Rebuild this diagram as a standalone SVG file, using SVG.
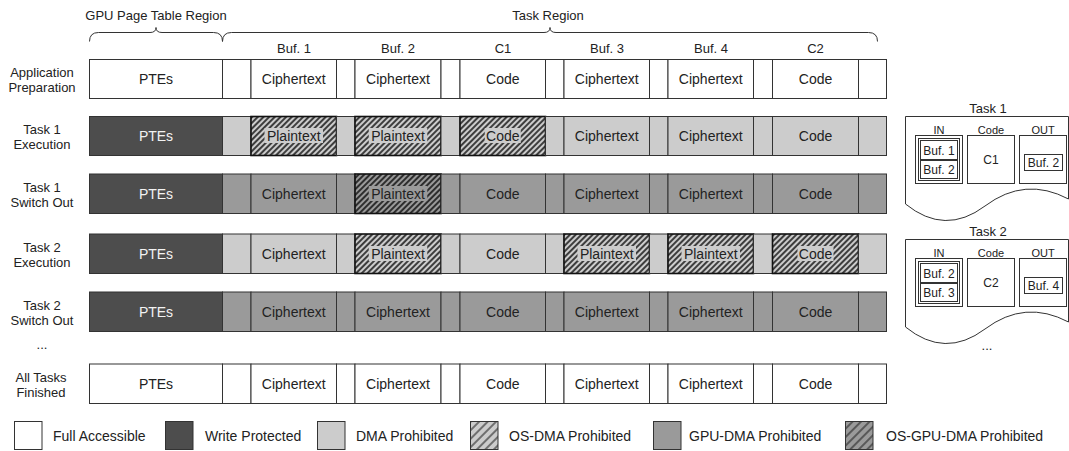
<svg xmlns="http://www.w3.org/2000/svg" width="1069" height="451" viewBox="0 0 1069 451">
<defs>
<style>
text{font-family:"Liberation Sans",Arial,Helvetica,sans-serif;fill:#222;text-anchor:middle}
.lbl{font-size:13px}
.hdr{font-size:13px}
.nt{font-size:14px}
.wt{fill:#f2f2f2}
.lg{font-size:14px;text-anchor:start}
.sm{font-size:11px}
.bt{font-size:12px}
.c{stroke:#333;stroke-width:1}
.h{stroke:#111;stroke-width:1.6}
.W{fill:#fff}.D{fill:#4d4d4d}.L{fill:#cccccc}.M{fill:#9a9a9a}
.br{fill:none;stroke:#333;stroke-width:1}
.pn{fill:#fff;stroke:#333;stroke-width:1}
</style>
<pattern id="hatch" width="4" height="4" patternUnits="userSpaceOnUse" patternTransform="rotate(45)">
<line x1="1" y1="0" x2="1" y2="4" stroke="#000" stroke-width="1.4"/>
</pattern>
<pattern id="hatchLg" width="6" height="6" patternUnits="userSpaceOnUse" patternTransform="rotate(45)">
<line x1="1" y1="0" x2="1" y2="6" stroke="#222" stroke-width="1.1"/>
</pattern>
</defs>

<g id="braces">
<text class="hdr" x="156" y="19.5">GPU Page Table Region</text>
<text class="hdr" x="548" y="19.5">Task Region</text>
<path class="br" d="M89.5,41.5 Q89.5,32.5 98.5,32.5 L150,32.5 Q156,32.5 156,27.5 Q156,32.5 162,32.5 L213.5,32.5 Q222.5,32.5 222.5,41.5"/>
<path class="br" d="M222.5,41.5 Q222.5,32.5 231.5,32.5 L544,32.5 Q550,32.5 550,27.5 Q550,32.5 556,32.5 L868.5,32.5 Q877.5,32.5 877.5,41.5"/>
<text class="hdr" x="294" y="53">Buf. 1</text>
<text class="hdr" x="398" y="53">Buf. 2</text>
<text class="hdr" x="503" y="53">C1</text>
<text class="hdr" x="607" y="53">Buf. 3</text>
<text class="hdr" x="711" y="53">Buf. 4</text>
<text class="hdr" x="815.5" y="53">C2</text>
</g>

<!-- Row 1 -->
<g id="row-app-prep">
<text class="lbl" x="42" y="77">Application</text>
<text class="lbl" x="42" y="92">Preparation</text>
<rect class="c W" x="89.5" y="59.5" width="133" height="39"/>
<rect class="c W" x="222.5" y="59.5" width="28.5" height="39"/>
<rect class="c W" x="251" y="59.5" width="85.5" height="39"/>
<rect class="c W" x="336.5" y="59.5" width="18.5" height="39"/>
<rect class="c W" x="355" y="59.5" width="86" height="39"/>
<rect class="c W" x="441" y="59.5" width="19" height="39"/>
<rect class="c W" x="460" y="59.5" width="85.5" height="39"/>
<rect class="c W" x="545.5" y="59.5" width="18.5" height="39"/>
<rect class="c W" x="564" y="59.5" width="85.5" height="39"/>
<rect class="c W" x="649.5" y="59.5" width="18.5" height="39"/>
<rect class="c W" x="668" y="59.5" width="85.5" height="39"/>
<rect class="c W" x="753.5" y="59.5" width="19" height="39"/>
<rect class="c W" x="772.5" y="59.5" width="86" height="39"/>
<rect class="c W" x="858.5" y="59.5" width="28" height="39"/>
<text class="nt" x="156" y="84">PTEs</text>
<text class="nt" x="293.75" y="84">Ciphertext</text>
<text class="nt" x="398" y="84">Ciphertext</text>
<text class="nt" x="502.75" y="84">Code</text>
<text class="nt" x="606.75" y="84">Ciphertext</text>
<text class="nt" x="710.75" y="84">Ciphertext</text>
<text class="nt" x="815.5" y="84">Code</text>
</g>

<!-- Row 2 -->
<g id="row-task1-exec">
<text class="lbl" x="42" y="134">Task 1</text>
<text class="lbl" x="42" y="149">Execution</text>
<rect class="c D" x="89.5" y="116.5" width="133" height="39"/>
<rect class="c L" x="222.5" y="116.5" width="28.5" height="39"/>
<rect class="L" x="251" y="116.5" width="85.5" height="39"/>
<rect class="h" fill="url(#hatch)" x="251" y="116.5" width="85.5" height="39"/>
<rect class="c L" x="336.5" y="116.5" width="18.5" height="39"/>
<rect class="L" x="355" y="116.5" width="86" height="39"/>
<rect class="h" fill="url(#hatch)" x="355" y="116.5" width="86" height="39"/>
<rect class="c L" x="441" y="116.5" width="19" height="39"/>
<rect class="L" x="460" y="116.5" width="85.5" height="39"/>
<rect class="h" fill="url(#hatch)" x="460" y="116.5" width="85.5" height="39"/>
<rect class="c L" x="545.5" y="116.5" width="18.5" height="39"/>
<rect class="c L" x="564" y="116.5" width="85.5" height="39"/>
<rect class="c L" x="649.5" y="116.5" width="18.5" height="39"/>
<rect class="c L" x="668" y="116.5" width="85.5" height="39"/>
<rect class="c L" x="753.5" y="116.5" width="19" height="39"/>
<rect class="c L" x="772.5" y="116.5" width="86" height="39"/>
<rect class="c L" x="858.5" y="116.5" width="28" height="39"/>
<rect class="L" x="264.5" y="128" width="58.5" height="15"/>
<rect class="L" x="368.75" y="128" width="58.5" height="15"/>
<rect class="L" x="484.75" y="128" width="36" height="15"/>
<text class="nt wt" x="156" y="141">PTEs</text>
<text class="nt" x="293.75" y="141">Plaintext</text>
<text class="nt" x="398" y="141">Plaintext</text>
<text class="nt" x="502.75" y="141">Code</text>
<text class="nt" x="606.75" y="141">Ciphertext</text>
<text class="nt" x="710.75" y="141">Ciphertext</text>
<text class="nt" x="815.5" y="141">Code</text>
</g>

<!-- Row 3 -->
<g id="row-task1-switch">
<text class="lbl" x="42" y="192">Task 1</text>
<text class="lbl" x="42" y="207">Switch Out</text>
<rect class="c D" x="89.5" y="174" width="133" height="39.5"/>
<rect class="c M" x="222.5" y="174" width="28.5" height="39.5"/>
<rect class="c M" x="251" y="174" width="85.5" height="39.5"/>
<rect class="c M" x="336.5" y="174" width="18.5" height="39.5"/>
<rect class="M" x="355" y="174" width="86" height="39.5"/>
<rect class="h" fill="url(#hatch)" x="355" y="174" width="86" height="39.5"/>
<rect class="c M" x="441" y="174" width="19" height="39.5"/>
<rect class="c M" x="460" y="174" width="85.5" height="39.5"/>
<rect class="c M" x="545.5" y="174" width="18.5" height="39.5"/>
<rect class="c M" x="564" y="174" width="85.5" height="39.5"/>
<rect class="c M" x="649.5" y="174" width="18.5" height="39.5"/>
<rect class="c M" x="668" y="174" width="85.5" height="39.5"/>
<rect class="c M" x="753.5" y="174" width="19" height="39.5"/>
<rect class="c M" x="772.5" y="174" width="86" height="39.5"/>
<rect class="c M" x="858.5" y="174" width="28" height="39.5"/>
<rect class="M" x="368.75" y="186" width="58.5" height="15"/>
<text class="nt wt" x="156" y="199">PTEs</text>
<text class="nt" x="293.75" y="199">Ciphertext</text>
<text class="nt" x="398" y="199">Plaintext</text>
<text class="nt" x="502.75" y="199">Code</text>
<text class="nt" x="606.75" y="199">Ciphertext</text>
<text class="nt" x="710.75" y="199">Ciphertext</text>
<text class="nt" x="815.5" y="199">Code</text>
</g>

<!-- Row 4 -->
<g id="row-task2-exec">
<text class="lbl" x="42" y="252">Task 2</text>
<text class="lbl" x="42" y="267">Execution</text>
<rect class="c D" x="89.5" y="234" width="133" height="39.5"/>
<rect class="c L" x="222.5" y="234" width="28.5" height="39.5"/>
<rect class="c L" x="251" y="234" width="85.5" height="39.5"/>
<rect class="c L" x="336.5" y="234" width="18.5" height="39.5"/>
<rect class="L" x="355" y="234" width="86" height="39.5"/>
<rect class="h" fill="url(#hatch)" x="355" y="234" width="86" height="39.5"/>
<rect class="c L" x="441" y="234" width="19" height="39.5"/>
<rect class="c L" x="460" y="234" width="85.5" height="39.5"/>
<rect class="c L" x="545.5" y="234" width="18.5" height="39.5"/>
<rect class="L" x="564" y="234" width="85.5" height="39.5"/>
<rect class="h" fill="url(#hatch)" x="564" y="234" width="85.5" height="39.5"/>
<rect class="c L" x="649.5" y="234" width="18.5" height="39.5"/>
<rect class="L" x="668" y="234" width="85.5" height="39.5"/>
<rect class="h" fill="url(#hatch)" x="668" y="234" width="85.5" height="39.5"/>
<rect class="c L" x="753.5" y="234" width="19" height="39.5"/>
<rect class="L" x="772.5" y="234" width="86" height="39.5"/>
<rect class="h" fill="url(#hatch)" x="772.5" y="234" width="86" height="39.5"/>
<rect class="c L" x="858.5" y="234" width="28" height="39.5"/>
<rect class="L" x="368.75" y="246" width="58.5" height="15"/>
<rect class="L" x="577.5" y="246" width="58.5" height="15"/>
<rect class="L" x="681.5" y="246" width="58.5" height="15"/>
<rect class="L" x="797.5" y="246" width="36" height="15"/>
<text class="nt wt" x="156" y="259">PTEs</text>
<text class="nt" x="293.75" y="259">Ciphertext</text>
<text class="nt" x="398" y="259">Plaintext</text>
<text class="nt" x="502.75" y="259">Code</text>
<text class="nt" x="606.75" y="259">Plaintext</text>
<text class="nt" x="710.75" y="259">Plaintext</text>
<text class="nt" x="815.5" y="259">Code</text>
</g>

<!-- Row 5 -->
<g id="row-task2-switch">
<text class="lbl" x="42" y="310">Task 2</text>
<text class="lbl" x="42" y="325">Switch Out</text>
<rect class="c D" x="89.5" y="292" width="133" height="39.5"/>
<rect class="c M" x="222.5" y="292" width="28.5" height="39.5"/>
<rect class="c M" x="251" y="292" width="85.5" height="39.5"/>
<rect class="c M" x="336.5" y="292" width="18.5" height="39.5"/>
<rect class="c M" x="355" y="292" width="86" height="39.5"/>
<rect class="c M" x="441" y="292" width="19" height="39.5"/>
<rect class="c M" x="460" y="292" width="85.5" height="39.5"/>
<rect class="c M" x="545.5" y="292" width="18.5" height="39.5"/>
<rect class="c M" x="564" y="292" width="85.5" height="39.5"/>
<rect class="c M" x="649.5" y="292" width="18.5" height="39.5"/>
<rect class="c M" x="668" y="292" width="85.5" height="39.5"/>
<rect class="c M" x="753.5" y="292" width="19" height="39.5"/>
<rect class="c M" x="772.5" y="292" width="86" height="39.5"/>
<rect class="c M" x="858.5" y="292" width="28" height="39.5"/>
<text class="nt wt" x="156" y="317">PTEs</text>
<text class="nt" x="293.75" y="317">Ciphertext</text>
<text class="nt" x="398" y="317">Ciphertext</text>
<text class="nt" x="502.75" y="317">Code</text>
<text class="nt" x="606.75" y="317">Ciphertext</text>
<text class="nt" x="710.75" y="317">Ciphertext</text>
<text class="nt" x="815.5" y="317">Code</text>
</g>

<text class="lbl" x="42" y="349">...</text>

<!-- Row 6 -->
<g id="row-all-finished">
<text class="lbl" x="41" y="381.5">All Tasks</text>
<text class="lbl" x="41" y="397">Finished</text>
<rect class="c W" x="89.5" y="364" width="133" height="39.5"/>
<rect class="c W" x="222.5" y="364" width="28.5" height="39.5"/>
<rect class="c W" x="251" y="364" width="85.5" height="39.5"/>
<rect class="c W" x="336.5" y="364" width="18.5" height="39.5"/>
<rect class="c W" x="355" y="364" width="86" height="39.5"/>
<rect class="c W" x="441" y="364" width="19" height="39.5"/>
<rect class="c W" x="460" y="364" width="85.5" height="39.5"/>
<rect class="c W" x="545.5" y="364" width="18.5" height="39.5"/>
<rect class="c W" x="564" y="364" width="85.5" height="39.5"/>
<rect class="c W" x="649.5" y="364" width="18.5" height="39.5"/>
<rect class="c W" x="668" y="364" width="85.5" height="39.5"/>
<rect class="c W" x="753.5" y="364" width="19" height="39.5"/>
<rect class="c W" x="772.5" y="364" width="86" height="39.5"/>
<rect class="c W" x="858.5" y="364" width="28" height="39.5"/>
<text class="nt" x="156" y="389">PTEs</text>
<text class="nt" x="293.75" y="389">Ciphertext</text>
<text class="nt" x="398" y="389">Ciphertext</text>
<text class="nt" x="502.75" y="389">Code</text>
<text class="nt" x="606.75" y="389">Ciphertext</text>
<text class="nt" x="710.75" y="389">Ciphertext</text>
<text class="nt" x="815.5" y="389">Code</text>
</g>

<!-- Task 1 panel -->
<g id="task1-panel">
<text class="lbl" x="988" y="113">Task 1</text>
<path class="pn" d="M905.5,204 V116.5 H1068.5 V199 Q1025,176 985,206 Q945,236 905.5,204 Z"/>
<text class="sm" x="939" y="134">IN</text>
<text class="sm" x="991" y="134">Code</text>
<text class="sm" x="1043" y="134">OUT</text>
<rect class="c W" x="915.5" y="135.5" width="47" height="48"/>
<rect class="c W" x="967.5" y="135.5" width="47" height="48"/>
<rect class="c W" x="1019.5" y="135.5" width="47" height="48"/>
<rect class="c W" x="918.5" y="138.5" width="41" height="42"/>
<rect class="c W" x="920.5" y="140.5" width="37" height="19"/>
<rect class="c W" x="920.5" y="160.5" width="37" height="18"/>
<text class="bt" x="939" y="154.5">Buf. 1</text>
<text class="bt" x="939" y="174">Buf. 2</text>
<text class="bt" x="991" y="164">C1</text>
<rect class="c W" x="1024.5" y="154.5" width="38" height="16"/>
<text class="bt" x="1043.5" y="167">Buf. 2</text>
</g>

<!-- Task 2 panel -->
<g id="task2-panel">
<text class="lbl" x="988" y="236">Task 2</text>
<path class="pn" d="M905.5,327 V239.5 H1068.5 V322 Q1025,299 985,329 Q945,359 905.5,327 Z"/>
<text class="sm" x="939" y="257">IN</text>
<text class="sm" x="991" y="257">Code</text>
<text class="sm" x="1043" y="257">OUT</text>
<rect class="c W" x="915.5" y="258.5" width="47" height="48"/>
<rect class="c W" x="967.5" y="258.5" width="47" height="48"/>
<rect class="c W" x="1019.5" y="258.5" width="47" height="48"/>
<rect class="c W" x="918.5" y="261.5" width="41" height="42"/>
<rect class="c W" x="920.5" y="263.5" width="37" height="19"/>
<rect class="c W" x="920.5" y="283.5" width="37" height="18"/>
<text class="bt" x="939" y="277.5">Buf. 2</text>
<text class="bt" x="939" y="297">Buf. 3</text>
<text class="bt" x="991" y="287">C2</text>
<rect class="c W" x="1024.5" y="277.5" width="38" height="16"/>
<text class="bt" x="1043.5" y="290">Buf. 4</text>
</g>
<text class="lbl" x="987" y="350">...</text>

<!-- Legend -->
<g id="legend-full">
<rect class="c W" x="14.5" y="421.5" width="27.5" height="28"/>
<text class="lg" x="53" y="440.5">Full Accessible</text>
</g>
<g id="legend-write">
<rect class="c D" x="165.5" y="421.5" width="27.5" height="28"/>
<text class="lg" x="205" y="440.5">Write Protected</text>
</g>
<g id="legend-dma">
<rect class="c L" x="317.5" y="421.5" width="27.5" height="28"/>
<text class="lg" x="356" y="440.5">DMA Prohibited</text>
</g>
<g id="legend-osdma">
<rect class="L" x="470.5" y="421.5" width="27.5" height="28"/>
<rect class="c" fill="url(#hatchLg)" x="470.5" y="421.5" width="27.5" height="28"/>
<text class="lg" x="509" y="440.5">OS-DMA Prohibited</text>
</g>
<g id="legend-gpudma">
<rect class="c M" x="653.5" y="421.5" width="27.5" height="28"/>
<text class="lg" x="689" y="440.5">GPU-DMA Prohibited</text>
</g>
<g id="legend-osgpudma">
<rect class="M" x="845.5" y="421.5" width="27.5" height="28"/>
<rect class="c" fill="url(#hatchLg)" x="845.5" y="421.5" width="27.5" height="28"/>
<text class="lg" x="886" y="440.5">OS-GPU-DMA Prohibited</text>
</g>
</svg>
